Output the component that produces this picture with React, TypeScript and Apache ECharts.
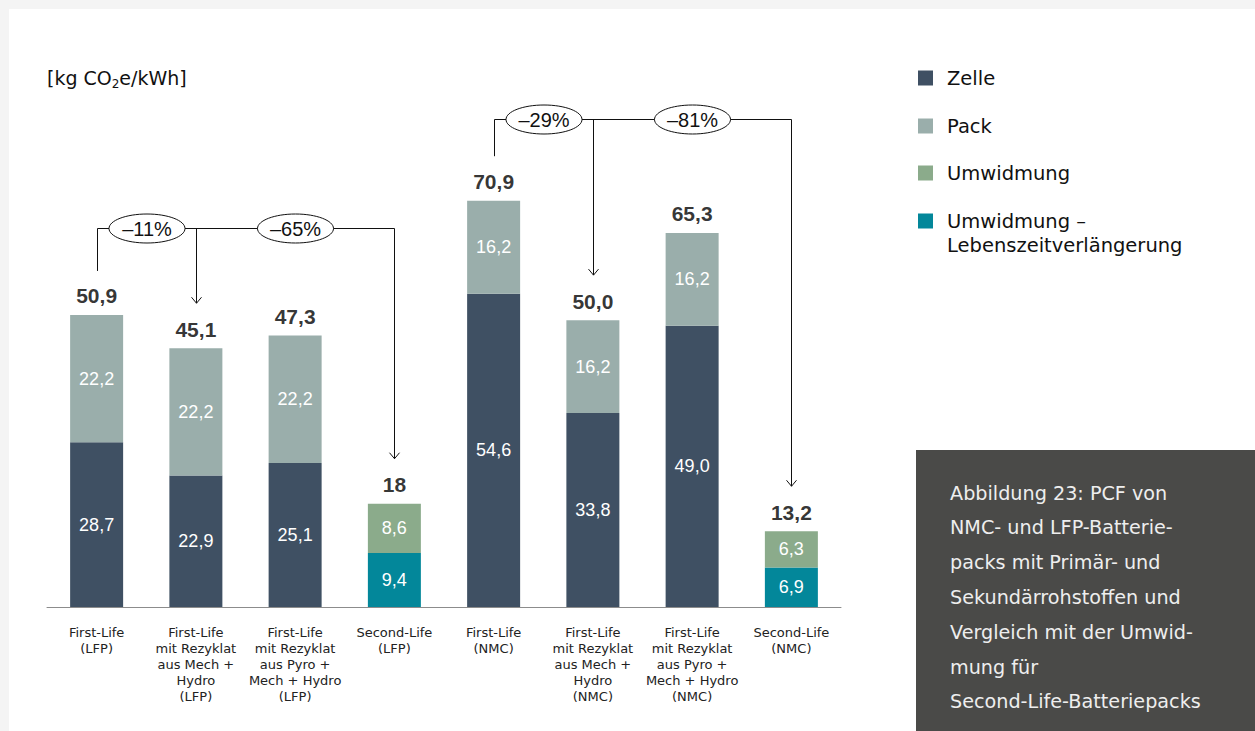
import React, { useEffect, useRef } from 'react';
import * as echarts from 'echarts';

const categories = [
  'First-Life\n(LFP)',
  'First-Life\nmit Rezyklat\naus Mech +\nHydro\n(LFP)',
  'First-Life\nmit Rezyklat\naus Pyro +\nMech + Hydro\n(LFP)',
  'Second-Life\n(LFP)',
  'First-Life\n(NMC)',
  'First-Life\nmit Rezyklat\naus Mech +\nHydro\n(NMC)',
  'First-Life\nmit Rezyklat\naus Pyro +\nMech + Hydro\n(NMC)',
  'Second-Life\n(NMC)',
];

const zelle: (number | string)[] = [28.7, 22.9, 25.1, '-', 54.6, 33.8, 49.0, '-'];
const pack: (number | string)[] = [22.2, 22.2, 22.2, '-', 16.2, 16.2, 16.2, '-'];
const lebenszeit: (number | string)[] = ['-', '-', '-', 9.4, '-', '-', '-', 6.9];
const umwidmung: (number | string)[] = ['-', '-', '-', 8.6, '-', '-', '-', 6.3];
const totals = [50.9, 45.1, 47.3, 18, 70.9, 50.0, 65.3, 13.2];
const totalLabels = ['50,9', '45,1', '47,3', '18', '70,9', '50,0', '65,3', '13,2'];

const legendNames = ['Zelle', 'Pack', 'Umwidmung', 'Umwidmung –\nLebenszeitverlängerung'];
const legendColors = ['#3f5063', '#9aaeab', '#8bab8b', '#03879a'];

const comparisons = [
  { from: 0, to: [1, 3], labels: ['–11%', '–65%'] },
  { from: 4, to: [5, 7], labels: ['–29%', '–81%'] },
];

const captionLines = [
  'Abbildung 23: PCF von',
  'NMC- und LFP-Batterie-',
  'packs mit Primär- und',
  'Sekundärrohstoffen und',
  'Vergleich mit der Umwid-',
  'mung für',
  'Second-Life-Batteriepacks',
];

const NUM_FONT = '"Liberation Sans", Arial, sans-serif';
const TXT_FONT = '"DejaVu Sans", sans-serif';
const INK = '#111111';

const fmt = (v: any) =>
  typeof v === 'number' && !isNaN(v) ? v.toFixed(1).replace('.', ',') : '';

export default function App() {
  const ref = useRef<HTMLDivElement>(null);

  useEffect(() => {
    const chart = echarts.init(ref.current!, null, { renderer: 'svg' });
    const segLabel = {
      show: true,
      position: 'inside',
      color: '#ffffff',
      fontSize: 18,
      fontFamily: NUM_FONT,
      formatter: (p: any) => fmt(p.value),
    };
    const barBase = { type: 'bar', stack: 'total', barWidth: 53, label: segLabel, silent: true };
    chart.setOption({
      animation: false,
      grid: { left: 38, top: 139, width: 794, height: 459 },
      xAxis: {
        type: 'category',
        data: categories,
        axisTick: { show: false },
        axisLine: { lineStyle: { color: '#8c8c8c', width: 1 } },
        axisLabel: {
          interval: 0,
          margin: 17,
          fontSize: 13,
          lineHeight: 16,
          color: '#222',
          fontFamily: TXT_FONT,
          align: 'center',
        },
      },
      yAxis: { type: 'value', min: 0, max: 80, show: false, splitLine: { show: false } },
      series: [
        { ...barBase, name: 'Zelle', data: zelle, itemStyle: { color: legendColors[0] } },
        { ...barBase, name: 'Pack', data: pack, itemStyle: { color: legendColors[1] } },
        {
          ...barBase,
          name: 'Umwidmung – Lebenszeitverlängerung',
          data: lebenszeit,
          itemStyle: { color: legendColors[3] },
        },
        { ...barBase, name: 'Umwidmung', data: umwidmung, itemStyle: { color: legendColors[2] } },
        {
          type: 'scatter',
          name: 'Gesamt',
          data: totals,
          symbolSize: 1,
          silent: true,
          itemStyle: { color: 'rgba(0,0,0,0)' },
          label: {
            show: true,
            position: 'top',
            distance: 8,
            color: '#000000',
            fontSize: 21,
            fontWeight: 'bold',
            fontFamily: NUM_FONT,
            formatter: (p: any) => totalLabels[p.dataIndex],
          },
        },
      ],
    });

    const px = (i: number, v: number) => chart.convertToPixel({ gridIndex: 0 }, [i, v]) as number[];
    const elements: any[] = [];
    const stroke = { stroke: INK, lineWidth: 1, fill: 'none' };
    const RISE = [87, 81];
    const START_GAP = 44;
    const TIP_GAP = 45;

    comparisons.forEach((c, ci) => {
      const [x0, top0] = px(c.from, totals[c.from]);
      const [xm, topm] = px(c.to[0], totals[c.to[0]]);
      const [xe, tope] = px(c.to[1], totals[c.to[1]]);
      const X0 = Math.round(x0) + 0.5;
      const XM = Math.round(xm) + 0.5;
      const XE = Math.round(xe) + 0.5;
      const yLine = Math.round(top0 - RISE[ci]) + 0.5;
      const tipM = topm - TIP_GAP;
      const tipE = tope - TIP_GAP;
      elements.push({
        type: 'polyline',
        silent: true,
        shape: { points: [[X0, top0 - START_GAP], [X0, yLine], [XE, yLine], [XE, tipE]] },
        style: stroke,
      });
      elements.push({
        type: 'line',
        silent: true,
        shape: { x1: XM, y1: yLine, x2: XM, y2: tipM },
        style: stroke,
      });
      [[XM, tipM], [XE, tipE]].forEach(([x, t]) => {
        elements.push({
          type: 'polyline',
          silent: true,
          shape: { points: [[x - 5, t - 6], [x, t], [x + 5, t - 6]] },
          style: stroke,
        });
      });
      [(X0 + XM) / 2, (XM + XE) / 2].forEach((cx, k) => {
        elements.push({
          type: 'ellipse',
          silent: true,
          shape: { cx, cy: yLine, rx: 38, ry: 14.5 },
          style: { fill: '#ffffff', stroke: INK, lineWidth: 1 },
        });
        elements.push({
          type: 'text',
          silent: true,
          style: {
            text: c.labels[k],
            x: cx,
            y: yLine + 0.5,
            align: 'center',
            verticalAlign: 'middle',
            fontSize: 20,
            fontFamily: NUM_FONT,
            fill: INK,
          },
        });
      });
    });

    // unit label
    elements.push({
      type: 'text',
      silent: true,
      style: {
        x: 38,
        y: 69,
        verticalAlign: 'middle',
        text: '{m|[kg CO}{s|2}{m|e/kWh]}',
        rich: {
          m: { fontSize: 19, fontFamily: TXT_FONT, fill: INK, lineHeight: 24, verticalAlign: 'middle' },
          s: { fontSize: 12, fontFamily: TXT_FONT, fill: INK, lineHeight: 24, verticalAlign: 'bottom' },
        },
      },
    });

    // legend
    const legendY = [69, 117, 164, 212];
    legendNames.forEach((n, i) => {
      elements.push({
        type: 'rect',
        silent: true,
        shape: { x: 909, y: legendY[i] - 7.5, width: 15, height: 15 },
        style: { fill: legendColors[i] },
      });
      elements.push({
        type: 'text',
        silent: true,
        style: {
          text: n,
          x: 938,
          y: legendY[i] - 12,
          verticalAlign: 'top',
          lineHeight: 24,
          fontSize: 19.5,
          fontFamily: TXT_FONT,
          fill: INK,
        },
      });
    });

    // caption box
    elements.push({
      type: 'rect',
      silent: true,
      shape: { x: 907, y: 441, width: 339, height: 281 },
      style: { fill: '#4a4a48' },
    });
    elements.push({
      type: 'text',
      silent: true,
      style: {
        text: captionLines.join('\n'),
        x: 941,
        y: 484 - 17.4,
        verticalAlign: 'top',
        lineHeight: 34.8,
        fontSize: 19.2,
        fontFamily: TXT_FONT,
        fill: '#eeeeee',
      },
    });

    chart.setOption({ graphic: { elements } });

    return () => chart.dispose();
  }, []);

  return (
    <div
      style={{
        position: 'absolute',
        left: 0,
        top: 0,
        width: 1255,
        height: 731,
        background: '#f4f4f4',
        overflow: 'hidden',
      }}
    >
      <div
        ref={ref}
        style={{ position: 'absolute', left: 9, top: 9, width: 1246, height: 722, background: '#ffffff' }}
      />
    </div>
  );
}
